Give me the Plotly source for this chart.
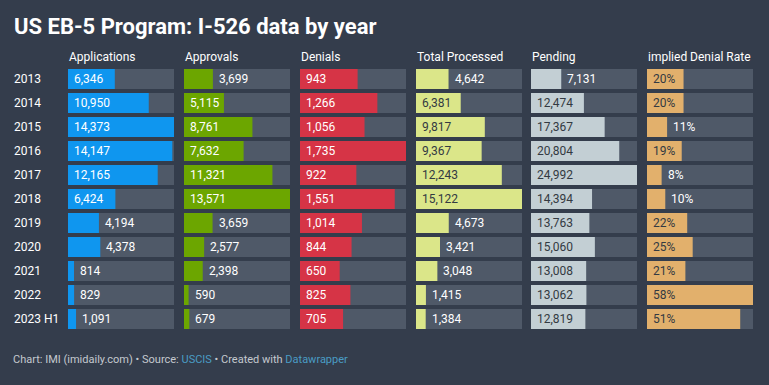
import plotly.graph_objects as go

W, H = 769, 385

years = ["2013", "2014", "2015", "2016", "2017", "2018", "2019", "2020", "2021", "2022", "2023 H1"]
applications = [6346, 10950, 14373, 14147, 12165, 6424, 4194, 4378, 814, 829, 1091]
approvals = [3699, 5115, 8761, 7632, 11321, 13571, 3659, 2577, 2398, 590, 679]
denials = [943, 1266, 1056, 1735, 922, 1551, 1014, 844, 650, 825, 705]
total_processed = [4642, 6381, 9817, 9367, 12243, 15122, 4673, 3421, 3048, 1415, 1384]
pending = [7131, 12474, 17367, 20804, 24992, 14394, 13763, 15060, 13008, 13062, 12819]
denial_rate = [20, 20, 11, 19, 8, 10, 22, 25, 21, 58, 51]

headers = ["Applications", "Approvals", "Denials", "Total Processed", "Pending", "implied Denial Rate"]
series = [applications, approvals, denials, total_processed, pending, denial_rate]
bar_colors = ["#0f96ef", "#6ca600", "#d63446", "#dbe689", "#c3cfd4", "#e2b06c"]
light_bar = [False, False, False, True, True, True]
fmt = [lambda v: f"{v:,}"] * 5 + [lambda v: f"{v}%"]

BG = "#343d4c"
TRACK = "#4f5968"
DARK_TXT = "#333a42"
FONT = "Roboto"

col_left = [68, 184, 300, 416, 531, 647]
col_w = 106
row_top, row_pitch = 67, 24

# row index of each year category (category order top -> bottom)
rows = list(range(len(years)))

fig = go.Figure()
annotations = []

y_dom = [1 - (row_top + row_pitch * len(years)) / H, 1 - row_top / H]

for k, (vals, hdr) in enumerate(zip(series, headers)):
    ax = "x" if k == 0 else f"x{k+1}"
    axkey = "xaxis" if k == 0 else f"xaxis{k+1}"
    vmax = max(vals)
    fig.add_trace(go.Bar(y=rows, x=[vmax] * len(years), orientation="h",
                         marker=dict(color=TRACK, line=dict(width=0)),
                         width=20 / 24, xaxis=ax, yaxis="y", hoverinfo="skip",
                         showlegend=False))
    fig.add_trace(go.Bar(y=rows, x=vals, orientation="h", customdata=years,
                         marker=dict(color=bar_colors[k], line=dict(width=0)),
                         width=20 / 24, xaxis=ax, yaxis="y", showlegend=False,
                         hovertemplate="%{customdata}: %{x}<extra>" + hdr + "</extra>"))
    fig.layout[axkey] = dict(domain=[col_left[k] / W, (col_left[k] + col_w) / W],
                             range=[0, vmax], anchor="y", visible=False,
                             fixedrange=True)
    for r, v in zip(rows, vals):
        txt = fmt[k](v)
        bar_px = v / vmax * col_w
        n = len(txt)
        inside = bar_px > n * 6 + 4
        if inside:
            color = DARK_TXT if light_bar[k] else "#ffffff"
            annotations.append(dict(x=0, y=r, xref=ax, yref="y", text=txt,
                                    showarrow=False, xanchor="left", xshift=4,
                                    font=dict(family=FONT, size=12, color=color)))
        else:
            annotations.append(dict(x=v, y=r, xref=ax, yref="y", text=txt,
                                    showarrow=False, xanchor="left", xshift=4,
                                    font=dict(family=FONT, size=12, color="#ffffff")))
    annotations.append(dict(x=col_left[k] / W, y=1 - 57 / H, xref="paper", yref="paper",
                            text=hdr, showarrow=False, xanchor="left", yanchor="middle",
                            xshift=-1,
                            font=dict(family=FONT, size=12, color="#ffffff")))

for r, yr in zip(rows, years):
    annotations.append(dict(x=13 / W, y=r, xref="paper", yref="y", text=yr,
                            showarrow=False, xanchor="left", xshift=-1,
                            font=dict(family=FONT, size=12, color="#ffffff")))

annotations.append(dict(x=13 / W, y=1 - 26 / H, xref="paper", yref="paper",
                        text="<b>US EB-5 Program: I-526 data by year</b>", showarrow=False,
                        xanchor="left", yanchor="middle", xshift=-1,
                        font=dict(family=FONT, size=22, color="#ffffff")))

annotations.append(dict(x=12 / W, y=1 - 359 / H, xref="paper", yref="paper",
                        text=("Chart: IMI (imidaily.com) • Source: "
                              "<span style='color:#4a9cc4'>USCIS</span>"
                              " • Created with "
                              "<span style='color:#4a9cc4'>Datawrapper</span>"),
                        showarrow=False, xanchor="left", yanchor="middle", xshift=-1,
                        font=dict(family=FONT, size=11, color="#c4c9cf")))

fig.update_layout(
    width=W, height=H,
    margin=dict(l=0, r=0, t=0, b=0),
    paper_bgcolor=BG, plot_bgcolor=BG,
    barmode="overlay",
    yaxis=dict(domain=y_dom, range=[len(years) - 0.5, -0.5],
               visible=False, fixedrange=True),
    annotations=annotations,
)

fig.write_html("out.html", config={"displayModeBar": False},
               post_script="document.body.style.margin='0';document.body.style.background='%s';" % BG)
